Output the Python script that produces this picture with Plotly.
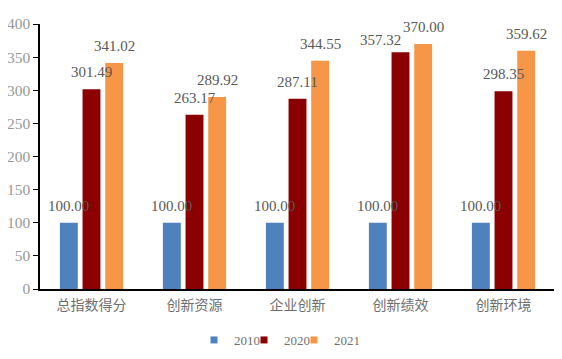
import plotly.graph_objects as go

categories = ["总指数得分", "创新资源", "企业创新", "创新绩效", "创新环境"]
years = ["2010", "2020", "2021"]
values_2010 = [100.00, 100.00, 100.00, 100.00, 100.00]
values_2020 = [301.49, 263.17, 287.11, 357.32, 298.35]
values_2021 = [341.02, 289.92, 344.55, 370.00, 359.62]
colors = ["#4F81BD", "#8B0000", "#F79646"]

series = [values_2010, values_2020, values_2021]

fig = go.Figure()
for name, vals, col in zip(years, series, colors):
    fig.add_trace(go.Bar(x=categories, y=vals, name=name, marker_color=col,
                         marker_line_width=0, showlegend=False))

# legend-only entries (small square symbols), each in its own legend for tight spacing
legend_ids = ["legend", "legend2", "legend3"]
for name, col, lid in zip(years, colors, legend_ids):
    fig.add_trace(go.Scatter(x=[None], y=[None], mode="markers", name=name,
                             marker=dict(symbol="square", size=7, color=col),
                             legend=lid, showlegend=True))

shifts = [-22.7, 0, 22.7]
# manual nudges for labels that were moved in the original to avoid overlap
nudges = {(1, 3): (-20, -5)}
for si, (vals, dx) in enumerate(zip(series, shifts)):
    for ci, (c, v) in enumerate(zip(categories, vals)):
        ndx, ndy = nudges.get((si, ci), (0, 0))
        fig.add_annotation(x=c, y=v, xref="x", yref="y", text=f"{v:.2f}",
                           showarrow=False, xshift=dx + ndx, yshift=17 + ndy,
                           yanchor="middle",
                           font=dict(family="Liberation Serif", size=15, color="#595959"))

# page has an 8px body margin; plot area in screen px: x 40..555, y 24..289
PX0, PW = 40, 515
leg_font = dict(family="Liberation Serif", size=13, color="#6f6f6f")
leg_common = dict(orientation="h", yanchor="middle", y=(289 - 340) / 265, xanchor="left",
                  font=leg_font, itemwidth=30, bgcolor="rgba(0,0,0,0)", borderwidth=0)
fig.update_layout(
    legend=dict(x=(194 - PX0) / PW, **leg_common),
    legend2=dict(x=(244 - PX0) / PW, **leg_common),
    legend3=dict(x=(294 - PX0) / PW, **leg_common),
)

fig.update_layout(
    width=554, height=351,
    margin=dict(l=32, r=7, t=16, b=70, autoexpand=False),
    plot_bgcolor="white", paper_bgcolor="white",
    barmode="group", bargap=0.34, bargroupgap=0.21,
    showlegend=True,
    xaxis=dict(showline=True, linecolor="black", linewidth=1.5, ticks="",
               tickfont=dict(family="Noto Sans CJK SC", size=14, color="#6f6f6f"),
               ticklabelstandoff=2, showgrid=False),
    yaxis=dict(range=[0, 400], dtick=50, showline=True, linecolor="black", linewidth=1.5,
               ticks="outside", ticklen=5, tickcolor="black", showgrid=False,
               zeroline=False,
               tickfont=dict(family="Liberation Serif", size=15.5, color="#999999")),
)

fig.write_html("out.html")
